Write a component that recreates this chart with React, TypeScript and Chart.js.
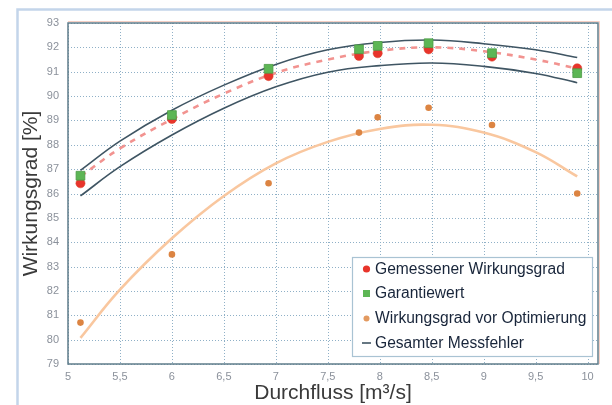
import React, { useEffect, useRef } from "react";
import { Chart, registerables } from "chart.js";

Chart.register(...registerables);

// Measured points (flow in m³/s)
const flowPoints = [5.12, 6.0, 6.93, 7.8, 7.98, 8.47, 9.08, 9.9];
const measuredEff = [86.42, 89.06, 90.82, 91.65, 91.76, 91.92, 91.62, 91.14];
const guaranteeEff = [86.73, 89.22, 91.12, 91.92, 92.06, 92.17, 91.76, 90.94];
const beforeOptEff = [80.7, 83.5, 86.42, 88.5, 89.13, 89.52, 88.81, 86.0];

// Curves
const curveFlow = [5.12, 5.5, 6.0, 6.5, 7.0, 7.5, 8.0, 8.5, 9.0, 9.5, 9.9];
const upperError = [86.95, 88.15, 89.42, 90.45, 91.3, 91.9, 92.2, 92.3, 92.15, 91.9, 91.58];
const lowerError = [85.9, 87.1, 88.4, 89.5, 90.38, 90.98, 91.25, 91.36, 91.22, 90.93, 90.55];
const fitMeasured = [86.7, 87.85, 89.05, 90.1, 90.95, 91.5, 91.86, 92.0, 91.84, 91.5, 91.13];
const fitBeforeOpt = [80.07, 82.05, 84.16, 85.9, 87.24, 88.12, 88.65, 88.82, 88.5, 87.7, 86.7];

const xTicks = [5, 5.5, 6, 6.5, 7, 7.5, 8, 8.5, 9, 9.5, 10];
const yTicks = [79, 80, 81, 82, 83, 84, 85, 86, 87, 88, 89, 90, 91, 92, 93];

const legendLabels = [
  "Gemessener Wirkungsgrad",
  "Garantiewert",
  "Wirkungsgrad vor Optimierung",
  "Gesamter Messfehler",
];

const RED = "#e8342b";
const GREEN = "#5db655";
const ORANGE = "#dc8442";
const DARK = "#3f5563";

const pts = (xs: number[], ys: number[]) => xs.map((x, i) => ({ x, y: ys[i] }));

const framePlugin = {
  id: "frames",
  beforeDraw(chart: any) {
    const ctx = chart.ctx;
    ctx.save();
    ctx.fillStyle = "#ffffff";
    ctx.fillRect(0, 0, chart.width, chart.height);
    ctx.strokeStyle = "#c3d5ea";
    ctx.lineWidth = 2.5;
    ctx.beginPath();
    ctx.moveTo(17.5, chart.height);
    ctx.lineTo(17.5, 9.5);
    ctx.lineTo(chart.width, 9.5);
    ctx.stroke();
    ctx.restore();
  },
  beforeDatasetsDraw(chart: any) {
    const { ctx, chartArea: a, scales } = chart;
    ctx.save();
    // dotted grid
    ctx.strokeStyle = "#8fb0c7";
    ctx.lineWidth = 1;
    ctx.setLineDash([1, 2]);
    ctx.beginPath();
    scales.x.ticks.forEach((t: any) => {
      const px = Math.round(scales.x.getPixelForValue(t.value)) + 0.5;
      ctx.moveTo(px, a.top);
      ctx.lineTo(px, a.bottom);
    });
    scales.y.ticks.forEach((t: any) => {
      const py = Math.round(scales.y.getPixelForValue(t.value)) + 0.5;
      ctx.moveTo(a.left, py);
      ctx.lineTo(a.right, py);
    });
    ctx.stroke();
    ctx.setLineDash([]);
    ctx.strokeStyle = "#f6cfc4";
    ctx.lineWidth = 1;
    ctx.beginPath();
    ctx.moveTo(a.left, a.top - 1.5);
    ctx.lineTo(a.right + 1.5, a.top - 1.5);
    ctx.lineTo(a.right + 1.5, a.bottom);
    ctx.stroke();
    ctx.strokeStyle = "#5f7c8a";
    ctx.lineWidth = 1.5;
    ctx.strokeRect(a.left, a.top, a.right - a.left, a.bottom - a.top);
    ctx.restore();
  },
  afterDraw(chart: any) {
    const ctx = chart.ctx;
    const bx = 352, by = 257, bw = 240, bh = 99;
    ctx.save();
    ctx.fillStyle = "#ffffff";
    ctx.fillRect(bx, by, bw, bh);
    ctx.strokeStyle = "#a9c3d3";
    ctx.lineWidth = 1.2;
    ctx.strokeRect(bx + 0.5, by + 0.5, bw, bh);
    const rows = [269, 293.5, 318.5, 343];
    const sx = 366.5;
    ctx.fillStyle = RED;
    ctx.beginPath();
    ctx.arc(sx, rows[0], 3.6, 0, Math.PI * 2);
    ctx.fill();
    ctx.fillStyle = GREEN;
    ctx.fillRect(sx - 3.5, rows[1] - 3.5, 7, 7);
    ctx.fillStyle = "#e39a60";
    ctx.beginPath();
    ctx.arc(sx, rows[2], 3, 0, Math.PI * 2);
    ctx.fill();
    ctx.strokeStyle = DARK;
    ctx.lineWidth = 1.6;
    ctx.beginPath();
    ctx.moveTo(sx - 4.5, rows[3]);
    ctx.lineTo(sx + 4.5, rows[3]);
    ctx.stroke();
    ctx.fillStyle = "#18253a";
    ctx.font = "15.6px 'Liberation Sans', Arial, sans-serif";
    ctx.textBaseline = "middle";
    ctx.textAlign = "left";
    legendLabels.forEach((t, i) => ctx.fillText(t, 375, rows[i] + 0.5));
    ctx.restore();
  },
};

export default function App() {
  const ref = useRef<HTMLCanvasElement | null>(null);
  useEffect(() => {
    if (!ref.current) return;
    const chart = new Chart(ref.current, {
      type: "scatter",
      data: {
        datasets: [
          {
            label: legendLabels[1],
            data: pts(flowPoints, guaranteeEff),
            pointStyle: "rect",
            pointRadius: 6.2,
            backgroundColor: GREEN,
            borderColor: "#4c9a46",
            borderWidth: 0.8,
          },
          {
            label: legendLabels[0],
            data: pts(flowPoints, measuredEff),
            pointStyle: "circle",
            pointRadius: 4.6,
            backgroundColor: RED,
            borderColor: "#d9442f",
            borderWidth: 0.5,
          },
          {
            label: legendLabels[2],
            data: pts(flowPoints, beforeOptEff),
            pointStyle: "circle",
            pointRadius: 3.3,
            backgroundColor: ORANGE,
            borderColor: ORANGE,
            borderWidth: 0,
          },
          {
            label: "fit",
            data: pts(curveFlow, fitMeasured),
            showLine: true,
            pointRadius: 0,
            borderColor: "#f29390",
            borderWidth: 2.6,
            borderDash: [6, 6],
            tension: 0.4,
            fill: false,
          },
          {
            label: legendLabels[3],
            data: pts(curveFlow, upperError),
            showLine: true,
            pointRadius: 0,
            borderColor: DARK,
            borderWidth: 1.6,
            tension: 0.4,
            fill: false,
          },
          {
            label: "lower",
            data: pts(curveFlow, lowerError),
            showLine: true,
            pointRadius: 0,
            borderColor: DARK,
            borderWidth: 1.6,
            tension: 0.4,
            fill: false,
          },
          {
            label: "fit before",
            data: pts(curveFlow, fitBeforeOpt),
            showLine: true,
            pointRadius: 0,
            borderColor: "#f9c79f",
            borderWidth: 2.6,
            tension: 0.4,
            fill: false,
          },
        ],
      },
      options: {
        responsive: false,
        animation: false,
        layout: { padding: { top: 23, right: 14, left: 0, bottom: 0 } },
        plugins: { legend: { display: false }, tooltip: { enabled: false } },
        scales: {
          x: {
            type: "linear",
            min: 5,
            max: 10.1,
            afterBuildTicks: (axis: any) => {
              axis.ticks = xTicks.map((v) => ({ value: v }));
            },
            afterFit: (axis: any) => {
              axis.height = 41;
            },
            ticks: {
              padding: 6,
              color: "#8b919b",
              font: { family: "'Liberation Sans', Arial, sans-serif", size: 11 },
              callback: (v: any) => String(v).replace(".", ","),
            },
            grid: { display: false, drawTicks: false },
            border: { display: false },
            title: {
              display: true,
              text: "Durchfluss [m³/s]",
              color: "#3a3a3a",
              font: { family: "'Liberation Sans', Arial, sans-serif", size: 21 },
              padding: { top: 0, bottom: -1 },
            },
          },
          y: {
            type: "linear",
            min: 79,
            max: 93,
            afterBuildTicks: (axis: any) => {
              axis.ticks = yTicks.map((v) => ({ value: v }));
            },
            afterFit: (axis: any) => {
              axis.width = 68;
            },
            ticks: {
              padding: 9,
              color: "#8b919b",
              font: { family: "'Liberation Sans', Arial, sans-serif", size: 11 },
            },
            grid: { display: false, drawTicks: false },
            border: { display: false },
            title: {
              display: true,
              text: "Wirkungsgrad [%]",
              color: "#3a3a3a",
              font: { family: "'Liberation Sans', Arial, sans-serif", size: 21 },
              padding: { top: 19, bottom: 0 },
            },
          },
        },
      },
      plugins: [framePlugin],
    } as any);
    return () => chart.destroy();
  }, []);
  return (
    <div style={{ position: "fixed", left: 0, top: 0, width: 612, height: 405 }}>
      <canvas ref={ref} width={612} height={405} />
    </div>
  );
}
